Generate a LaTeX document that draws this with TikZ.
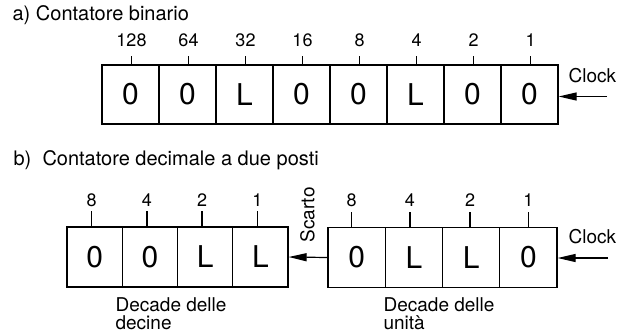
\documentclass[tikz,border=0pt]{standalone}
\usepackage{fontspec}
\setmainfont{TeX Gyre Heros}
\usetikzlibrary{arrows.meta}
\begin{document}
\begin{tikzpicture}[x=1pt,y=-1pt, line width=1.2pt,
 cell/.style={draw, minimum height=59pt, inner sep=0pt, font=\fontsize{30}{30}\selectfont},
 cella/.style={cell, minimum width=57pt},
 cellb/.style={cell, minimum width=55.25pt, minimum height=60pt},
 cellc/.style={cell, minimum width=57.25pt, minimum height=60pt},
 lbl/.style={font=\fontsize{18}{18}\selectfont, anchor=base, inner sep=0pt},
 txt/.style={font=\fontsize{19}{19}\selectfont, anchor=base west, inner sep=0pt},
 two/.style={font=\fontsize{19}{17.5}\selectfont, anchor=north west, align=left, inner sep=0pt},
 ttl/.style={font=\fontsize{20}{20}\selectfont, anchor=base west, inner sep=0pt},
 arr/.style={-{Triangle[length=18pt,width=8pt]}, line width=1.2pt},
 tick/.style={line width=1.4pt}]
\useasboundingbox (0,0) rectangle (631,335);

% ---- a) ----
\node[ttl] (ta) at (12,20.5) {a) Contatore binario};

\node[cella] (a1) at (130.5,94.5) {0};
\node[cella] (a2) at (187.5,94.5) {0};
\node[cella] (a3) at (244.5,94.5) {L};
\node[cella] (a4) at (301.5,94.5) {0};
\node[cella] (a5) at (358.5,94.5) {0};
\node[cella] (a6) at (415.5,94.5) {L};
\node[cella] (a7) at (472.5,94.5) {0};
\node[cella] (a8) at (529.5,94.5) {0};

\foreach \n/\v in {a1/128,a2/64,a3/32,a4/16,a5/8,a6/4,a7/2,a8/1}{
  \draw[tick] ([xshift=1pt]\n.north) -- ++(0,-8) coordinate (t\n);
  \node[lbl] (l\n) at ([yshift=10pt]t\n) {\v};
}

\node[txt] (clka) at (568,82) {Clock};
\coordinate (ca) at (607,96.5);
\draw[arr] (ca) -- (ca -| a8.east);

% ---- b) ----
\node[ttl] (tb) at (13,165) {b)\ \ Contatore decimale a due posti};

\node[cellb] (b1) at (94.6,257) {0};
\node[cellb] (b2) at (149.9,257) {0};
\node[cellb] (b3) at (205.1,257) {L};
\node[cellb] (b4) at (260.4,257) {L};

\node[cellc] (c1) at (356.6,257.5) {0};
\node[cellc] (c2) at (413.9,257.5) {L};
\node[cellc] (c3) at (471.1,257.5) {L};
\node[cellc] (c4) at (528.4,257.5) {0};

\foreach \n/\v in {b1/8,b2/4,b3/2,b4/1}{
  \draw[tick] ([xshift=-3pt]\n.north) -- ++(0,-15) coordinate (t\n);
  \node[lbl] (l\n) at ([yshift=5pt]t\n) {\v};
}
\foreach \n/\v/\s in {c1/8/-5,c2/4/-4,c3/2/-1,c4/1/0}{
  \draw[tick] ([xshift=\s pt]\n.north) -- ++(0,-15) coordinate (t\n);
  \node[lbl] (l\n) at ([yshift=5pt]t\n) {\v};
}

\draw[arr] (c1.west) -- (b4.east);
\node[font=\fontsize{19}{19}\selectfont, rotate=90, inner sep=0pt] (sc) at (307.5,215) {Scarto};

\node[txt] (clkb) at (568,243) {Clock};
\coordinate (cb) at (608,258);
\draw[arr] (cb) -- (cb -| c4.east);

\node[two] (dd) at (115,297.5) {Decade delle\\decine};
\node[two] (du) at (383,297.5) {Decade delle\\unità};
\end{tikzpicture}
\end{document}
